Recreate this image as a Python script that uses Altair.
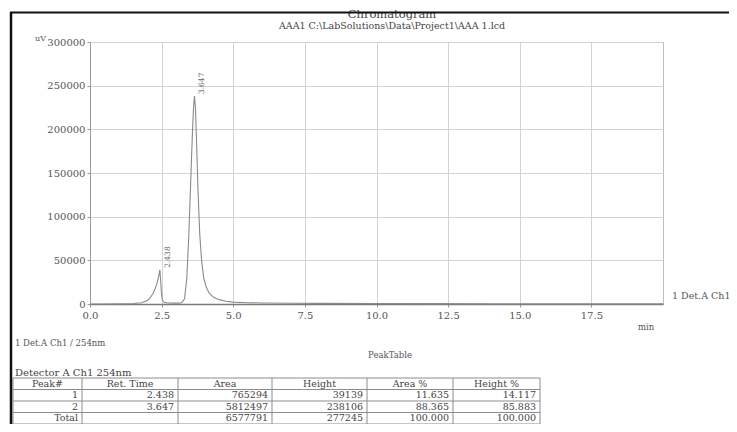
import altair as alt
import pandas as pd

# ---------------- data ----------------
times = [0.0, 0.5, 1.0, 1.5, 1.8, 2.0, 2.1, 2.2, 2.28, 2.35, 2.4, 2.438, 2.46, 2.49, 2.52,
         2.58, 2.7, 2.9, 3.1, 3.2, 3.3, 3.38, 3.45, 3.52, 3.58, 3.62, 3.647, 3.68, 3.72,
         3.77, 3.83, 3.9, 3.97, 4.05, 4.15, 4.3, 4.5, 4.75, 5.0, 5.5, 6.0, 7.0, 8.0,
         10.0, 12.0, 14.0, 16.0, 18.0, 20.0]
signal = [0, 0, 200, 600, 1500, 4000, 7000, 12000, 18000, 25000, 32000, 39139, 30000, 14000, 5000,
          2000, 1200, 1000, 1000, 1500, 6000, 30000, 80000, 145000, 200000, 228000, 238106, 225000, 185000,
          130000, 80000, 48000, 30000, 20000, 13000, 8000, 5000, 3200, 2200, 1500, 1200, 900, 700,
          500, 400, 300, 250, 200, 150]

peak_no = ["1", "2"]
ret_time = [2.438, 3.647]
area = [765294, 5812497]
height = [39139, 238106]
area_pct = [11.635, 88.365]
height_pct = [14.117, 85.883]

x_ticks = [0.0, 2.5, 5.0, 7.5, 10.0, 12.5, 15.0, 17.5]
y_ticks = [0, 50000, 100000, 150000, 200000, 250000, 300000]
headers = ["Peak#", "Ret. Time", "Area", "Height", "Area %", "Height %"]

title_main = "Chromatogram"
title_sub = "AAA1 C:\\LabSolutions\\Data\\Project1\\AAA 1.lcd"
trace_name = "1 Det.A Ch1"
legend_text = "1  Det.A Ch1 / 254nm"
table_title = "PeakTable"
detector_text = "Detector A Ch1 254nm"
unit_y = "uV"
unit_x = "min"

# ---------------- layout ----------------
W, H = 573, 262
OX, OY = 90, 42          # page position of the plot origin
PAD = {"left": OX - 8, "top": OY - 8, "right": 721 - (OX - 8) - W, "bottom": 416 - (OY - 8) - H}
FONT = "DejaVu Serif"
TXT = "#555555"

col_edges = [13, 82, 178, 272, 367, 453, 540]
row_lines = [378, 389.5, 401, 412.5, 424]

xs = alt.Scale(domain=[0, 20], nice=False, zero=False)
ys = alt.Scale(domain=[0, 300000], nice=False, zero=False)
PX = alt.Scale(domain=[0, 737], range=[-OX, 737 - OX], nice=False, zero=False)
PY = alt.Scale(domain=[0, 432], range=[-OY, 432 - OY], nice=False, zero=False)

trace_df = pd.DataFrame({"t": times, "v": signal})
peaks_df = pd.DataFrame({"t": ret_time, "h": height, "label": [f"{r:.3f}" for r in ret_time]})
end_df = pd.DataFrame({"t": [times[-1]], "v": [signal[-1]], "label": [trace_name]})
unit_df = pd.DataFrame({"t": [times[-1]], "v": [0], "label": [unit_x]})

# table contents
body = [
    [peak_no[0], f"{ret_time[0]:.3f}", str(area[0]), str(height[0]), f"{area_pct[0]:.3f}", f"{height_pct[0]:.3f}"],
    [peak_no[1], f"{ret_time[1]:.3f}", str(area[1]), str(height[1]), f"{area_pct[1]:.3f}", f"{height_pct[1]:.3f}"],
    ["Total", "", str(sum(area)), str(sum(height)), f"{sum(area_pct):.3f}", f"{sum(height_pct):.3f}"],
]
head_rows = []
for c, h in enumerate(headers):
    head_rows.append({"x": (col_edges[c] + col_edges[c + 1]) / 2,
                      "y": (row_lines[0] + row_lines[1]) / 2, "label": h})
cell_rows = []
for r, row in enumerate(body):
    for c, val in enumerate(row):
        cell_rows.append({"x": col_edges[c + 1] - 4,
                          "y": (row_lines[r + 1] + row_lines[r + 2]) / 2 if r + 2 < len(row_lines) else row_lines[r + 1] + 6,
                          "label": val})
seg_rows = []
for yv in row_lines:
    seg_rows.append({"x1": col_edges[0], "x2": col_edges[-1], "y1": yv, "y2": yv})
for xv in col_edges:
    seg_rows.append({"x1": xv, "x2": xv, "y1": row_lines[0], "y2": row_lines[-1] + 10})
head_df = pd.DataFrame(head_rows)
cell_df = pd.DataFrame(cell_rows)
seg_df = pd.DataFrame(seg_rows)

# ---------------- chart ----------------
trace = alt.Chart(trace_df).mark_line(color="#8a8a8a", strokeWidth=1.1).encode(
    x=alt.X("t:Q", scale=xs, axis=alt.Axis(
        values=x_ticks, format=".1f", title=None, grid=True, gridColor="#d2d2d2",
        domainColor="#7a7a7a", domainWidth=1.5, tickColor="#999999", tickSize=3,
        labelFont=FONT, labelFontSize=10, labelColor=TXT, labelPadding=3,
        labelFlush=False, labelOverlap=False)),
    y=alt.Y("v:Q", scale=ys, axis=alt.Axis(
        values=y_ticks, format="d", title=None, grid=True, gridColor="#d2d2d2",
        domainColor="#9a9a9a", tickColor="#999999", tickSize=3,
        labelFont=FONT, labelFontSize=10, labelColor=TXT, labelPadding=2,
        labelOverlap=False)),
)

peak_labels = alt.Chart(peaks_df).mark_text(
    angle=270, align="left", baseline="middle", dx=2, dy=8,
    font=FONT, fontSize=7.5, color="#666666").encode(
    x=alt.X("t:Q", scale=xs, axis=None),
    y=alt.Y("h:Q", scale=ys, axis=None),
    text="label:N")

end_label = alt.Chart(end_df).mark_text(
    align="left", baseline="middle", dx=9, dy=-8,
    font=FONT, fontSize=9.5, color=TXT).encode(
    x=alt.X("t:Q", scale=xs, axis=None),
    y=alt.Y("v:Q", scale=ys, axis=None),
    text="label:N")

unit_label = alt.Chart(unit_df).mark_text(
    align="center", baseline="middle", dx=-17, dy=23,
    font=FONT, fontSize=8.5, color=TXT).encode(
    x=alt.X("t:Q", scale=xs, axis=None),
    y=alt.Y("v:Q", scale=ys, axis=None),
    text="label:N")

def free_text(txt, x, y, size, align="left", color=TXT):
    return alt.Chart(pd.DataFrame({"label": [txt]})).mark_text(
        align=align, baseline="alphabetic", font=FONT, fontSize=size, color=color).encode(
        x=alt.value(x - OX), y=alt.value(y - OY), text="label:N")

t_main = free_text(title_main, 392, 18, 11.5, "center", "#444444")
t_sub = free_text(title_sub, 392, 29, 9.5, "center", "#444444")
t_uv = free_text(unit_y, 46, 41, 8, "right")
t_leg = free_text(legend_text, 15, 346, 8.5)
t_pt = free_text(table_title, 390, 358, 8.5, "center")
t_det = free_text(detector_text, 15, 376, 10, "left", "#444444")

border_top = alt.Chart(pd.DataFrame({"a": [0]})).mark_rule(color="#111111", strokeWidth=2).encode(
    x=alt.value(10 - OX), x2=alt.value(737 - OX), y=alt.value(12.5 - OY))
border_left = alt.Chart(pd.DataFrame({"a": [0]})).mark_rule(color="#111111", strokeWidth=2.5).encode(
    x=alt.value(11 - OX), y=alt.value(12 - OY), y2=alt.value(432 - OY))

table_lines = alt.Chart(seg_df).mark_rule(color="#8c8c8c", strokeWidth=1).encode(
    x=alt.X("x1:Q", scale=PX, axis=None), x2="x2:Q",
    y=alt.Y("y1:Q", scale=PY, axis=None), y2="y2:Q")
table_head = alt.Chart(head_df).mark_text(
    align="center", baseline="middle", font=FONT, fontSize=9.5, color="#444444").encode(
    x=alt.X("x:Q", scale=PX, axis=None), y=alt.Y("y:Q", scale=PY, axis=None), text="label:N")
table_cells = alt.Chart(cell_df).mark_text(
    align="right", baseline="middle", font=FONT, fontSize=9.5, color="#444444").encode(
    x=alt.X("x:Q", scale=PX, axis=None), y=alt.Y("y:Q", scale=PY, axis=None), text="label:N")

chart = alt.layer(
    trace, peak_labels, end_label, unit_label,
    table_lines, table_head, table_cells,
    t_main, t_sub, t_uv, t_leg, t_pt, t_det,
    border_top, border_left,
).resolve_scale(x="independent", y="independent").properties(
    width=W, height=H,
    autosize=alt.AutoSizeParams(type="none"),
    padding=PAD,
    background="white",
).configure_view(stroke="#bdbdbd", strokeWidth=1)

chart.save("out.html", embed_options={"renderer": "svg", "actions": False})
